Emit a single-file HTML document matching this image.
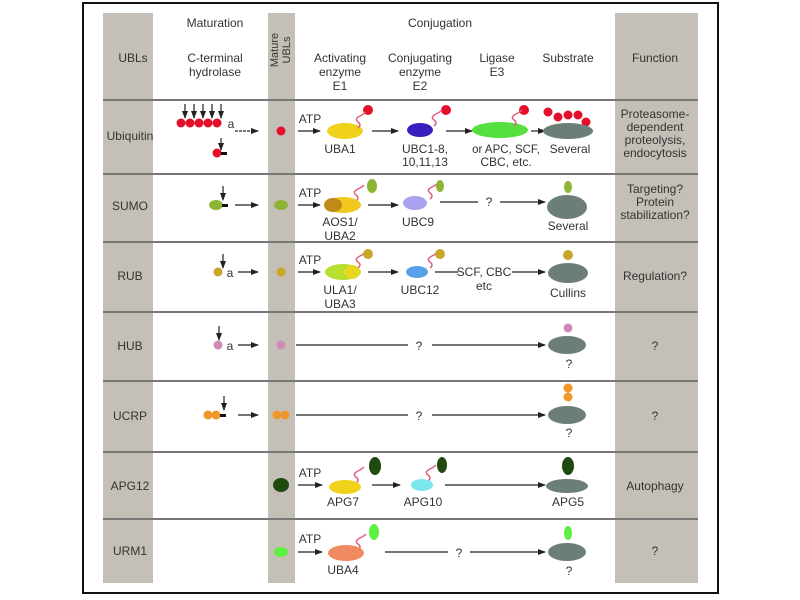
<!DOCTYPE html>
<html><head><meta charset="utf-8"><style>
html,body{margin:0;padding:0;background:#fff;}
svg{display:block;}
text{font-family:"Liberation Sans",sans-serif;font-size:12px;fill:#333;text-anchor:middle;}
</style></head><body>
<svg width="800" height="600" viewBox="0 0 800 600" xmlns="http://www.w3.org/2000/svg">
<defs>
<marker id="ah" markerWidth="8" markerHeight="6" refX="7" refY="3" orient="auto" markerUnits="userSpaceOnUse"><path d="M0,0 L8,3 L0,6z" fill="#222"/></marker>
</defs>
<rect x="83" y="3" width="635" height="590" fill="#fff" stroke="#111" stroke-width="2"/>
<rect x="103" y="13" width="50" height="570" fill="#c5c0b7"/>
<rect x="268" y="13" width="27" height="570" fill="#c5c0b7"/>
<rect x="615" y="13" width="83" height="570" fill="#c5c0b7"/>
<g stroke="#777" stroke-width="2">
<line x1="103" y1="100" x2="698" y2="100"/>
<line x1="103" y1="174" x2="698" y2="174"/>
<line x1="103" y1="242" x2="698" y2="242"/>
<line x1="103" y1="312" x2="698" y2="312"/>
<line x1="103" y1="381" x2="698" y2="381"/>
<line x1="103" y1="452" x2="698" y2="452"/>
<line x1="103" y1="519" x2="698" y2="519"/>
</g>
<text x="133" y="62">UBLs</text>
<text x="215" y="27">Maturation</text>
<text x="215" y="62">C-terminal</text><text x="215" y="76">hydrolase</text>
<text transform="translate(278,50) rotate(-90)" style="font-size:11px">Mature</text>
<text transform="translate(290,50) rotate(-90)" style="font-size:11px">UBLs</text>
<text x="440" y="27">Conjugation</text>
<text x="340" y="62">Activating</text><text x="340" y="76">enzyme</text><text x="340" y="90">E1</text>
<text x="420" y="62">Conjugating</text><text x="420" y="76">enzyme</text><text x="420" y="90">E2</text>
<text x="497" y="62">Ligase</text><text x="497" y="76">E3</text>
<text x="568" y="62">Substrate</text>
<text x="655" y="62">Function</text>
<text x="130" y="140">Ubiquitin</text>
<text x="130" y="210">SUMO</text>
<text x="130" y="280">RUB</text>
<text x="130" y="350">HUB</text>
<text x="130" y="420">UCRP</text>
<text x="130" y="490">APG12</text>
<text x="130" y="555">URM1</text>
<text x="655" y="118">Proteasome-</text><text x="655" y="131">dependent</text><text x="655" y="144">proteolysis,</text><text x="655" y="157">endocytosis</text>
<text x="655" y="193">Targeting?</text><text x="655" y="206">Protein</text><text x="655" y="219">stabilization?</text>
<text x="655" y="280">Regulation?</text>
<text x="655" y="350">?</text>
<text x="655" y="420">?</text>
<text x="655" y="490">Autophagy</text>
<text x="655" y="555">?</text>
<g stroke="#222" stroke-width="1.2" fill="none">
<line x1="235" y1="131" x2="258" y2="131" marker-end="url(#ah)" stroke-dasharray="3,1"/>
<line x1="235" y1="205" x2="258" y2="205" marker-end="url(#ah)"/>
<line x1="238" y1="272" x2="258" y2="272" marker-end="url(#ah)"/>
<line x1="238" y1="345" x2="258" y2="345" marker-end="url(#ah)"/>
<line x1="238" y1="415" x2="258" y2="415" marker-end="url(#ah)"/>
<line x1="185" y1="104" x2="185" y2="118" marker-end="url(#ah)"/>
<line x1="194" y1="104" x2="194" y2="118" marker-end="url(#ah)"/>
<line x1="203" y1="104" x2="203" y2="118" marker-end="url(#ah)"/>
<line x1="212" y1="104" x2="212" y2="118" marker-end="url(#ah)"/>
<line x1="221" y1="104" x2="221" y2="118" marker-end="url(#ah)"/>
<line x1="221" y1="138" x2="221" y2="150" marker-end="url(#ah)"/>
<line x1="223" y1="186" x2="223" y2="200" marker-end="url(#ah)"/>
<line x1="223" y1="254" x2="223" y2="268" marker-end="url(#ah)"/>
<line x1="219" y1="326" x2="219" y2="340" marker-end="url(#ah)"/>
<line x1="224" y1="396" x2="224" y2="410" marker-end="url(#ah)"/>
<line x1="298" y1="131" x2="320" y2="131" marker-end="url(#ah)"/>
<line x1="298" y1="205" x2="320" y2="205" marker-end="url(#ah)"/>
<line x1="298" y1="272" x2="320" y2="272" marker-end="url(#ah)"/>
<line x1="298" y1="485" x2="322" y2="485" marker-end="url(#ah)"/>
<line x1="298" y1="552" x2="322" y2="552" marker-end="url(#ah)"/>
<line x1="372" y1="131" x2="398" y2="131" marker-end="url(#ah)"/>
<line x1="368" y1="205" x2="398" y2="205" marker-end="url(#ah)"/>
<line x1="368" y1="272" x2="398" y2="272" marker-end="url(#ah)"/>
<line x1="372" y1="485" x2="400" y2="485" marker-end="url(#ah)"/>
<line x1="446" y1="131" x2="472" y2="131" marker-end="url(#ah)"/>
<line x1="531" y1="131" x2="545" y2="131" marker-end="url(#ah)"/>
<line x1="440" y1="202" x2="478" y2="202"/><line x1="500" y1="202" x2="545" y2="202" marker-end="url(#ah)"/>
<line x1="435" y1="272" x2="458" y2="272"/><line x1="512" y1="272" x2="545" y2="272" marker-end="url(#ah)"/>
<line x1="296" y1="345" x2="408" y2="345"/><line x1="432" y1="345" x2="545" y2="345" marker-end="url(#ah)"/>
<line x1="296" y1="415" x2="408" y2="415"/><line x1="432" y1="415" x2="545" y2="415" marker-end="url(#ah)"/>
<line x1="445" y1="485" x2="545" y2="485" marker-end="url(#ah)"/>
<line x1="385" y1="552" x2="448" y2="552"/><line x1="470" y1="552" x2="545" y2="552" marker-end="url(#ah)"/>
</g>
<g fill="#e4102a">
<circle cx="181" cy="123" r="4.5"/><circle cx="190" cy="123" r="4.5"/><circle cx="199" cy="123" r="4.5"/><circle cx="208" cy="123" r="4.5"/><circle cx="217" cy="123" r="4.5"/>
<circle cx="217" cy="153" r="4.5"/><circle cx="281" cy="131" r="4.5"/>
<circle cx="368" cy="110" r="5"/><circle cx="446" cy="110" r="5"/><circle cx="524" cy="110" r="5"/>
<circle cx="548" cy="112" r="4.5"/><circle cx="558" cy="117" r="4.5"/><circle cx="568" cy="115" r="4.5"/><circle cx="578" cy="115" r="4.5"/><circle cx="586" cy="122" r="4.5"/>
</g>
<rect x="221" y="152" width="6" height="3" fill="#111"/>
<text x="231" y="128">a</text>
<text x="310" y="123">ATP</text>
<ellipse cx="345" cy="131" rx="18" ry="8" fill="#f1d21a"/>
<text x="340" y="153">UBA1</text>
<ellipse cx="420" cy="130" rx="13" ry="7" fill="#3a1ec0"/>
<text x="425" y="153">UBC1-8,</text><text x="425" y="166">10,11,13</text>
<ellipse cx="500" cy="130" rx="28" ry="8" fill="#56e040"/>
<text x="506" y="153" style="font-size:11.5px">or APC, SCF,</text><text x="506" y="166">CBC, etc.</text>
<ellipse cx="568" cy="131" rx="25" ry="8" fill="#6c7f77"/>
<text x="570" y="153">Several</text>
<g stroke="#e06080" stroke-width="1.5" fill="none">
<path d="M358,128 q4,-3 0,-6 q-4,-3 2,-6 q4,-2 5,-4"/>
<path d="M434,126 q4,-3 0,-6 q-4,-3 2,-6 q4,-2 6,-4"/>
<path d="M514,126 q4,-3 0,-6 q-4,-3 2,-6 q4,-2 6,-4"/>
<path d="M356,201 q4,-3 0,-6 q-4,-3 2,-6 q4,-2 6,-4"/>
<path d="M430,199 q4,-3 0,-6 q-4,-3 2,-6 q4,-2 6,-4"/>
<path d="M358,268 q4,-3 0,-6 q-4,-3 2,-6 q4,-2 6,-4"/>
<path d="M430,268 q4,-3 0,-6 q-4,-3 2,-6 q4,-2 6,-4"/>
<path d="M356,483 q4,-3 0,-6 q-4,-3 2,-6 q4,-2 6,-4"/>
<path d="M428,481 q4,-3 0,-6 q-4,-3 2,-6 q4,-2 6,-4"/>
<path d="M358,550 q4,-3 0,-6 q-4,-3 2,-6 q4,-2 6,-4"/>
</g>
<ellipse cx="216" cy="205" rx="7" ry="5" fill="#8db434"/><rect x="222" y="204" width="6" height="3" fill="#111"/>
<ellipse cx="281" cy="205" rx="7" ry="5" fill="#8db434"/>
<text x="310" y="197">ATP</text>
<ellipse cx="343" cy="205" rx="18" ry="8" fill="#f0c820"/><ellipse cx="333" cy="205" rx="9" ry="7" fill="#c08a18"/>
<ellipse cx="372" cy="186" rx="5" ry="7" fill="#8db434"/>
<text x="340" y="226">AOS1/</text><text x="340" y="240">UBA2</text>
<ellipse cx="415" cy="203" rx="12" ry="7" fill="#a9a0f0"/>
<ellipse cx="440" cy="186" rx="4" ry="6" fill="#8db434"/>
<text x="418" y="226">UBC9</text>
<text x="489" y="206">?</text>
<ellipse cx="567" cy="207" rx="20" ry="12" fill="#6c7f77"/>
<ellipse cx="568" cy="187" rx="4" ry="6" fill="#8db434"/>
<text x="568" y="230">Several</text>
<circle cx="218" cy="272" r="4.5" fill="#c9a62a"/><text x="230" y="277">a</text>
<circle cx="281" cy="272" r="4.5" fill="#c9a62a"/>
<text x="310" y="264">ATP</text>
<ellipse cx="343" cy="272" rx="18" ry="8" fill="#b6e030"/><ellipse cx="352" cy="272" rx="8" ry="7" fill="#e8d820"/>
<circle cx="368" cy="254" r="5" fill="#c9a62a"/>
<text x="340" y="294">ULA1/</text><text x="340" y="308">UBA3</text>
<ellipse cx="417" cy="272" rx="11" ry="6" fill="#5aa0e8"/>
<circle cx="440" cy="254" r="5" fill="#c9a62a"/>
<text x="420" y="294">UBC12</text>
<text x="484" y="276">SCF, CBC</text><text x="484" y="290">etc</text>
<ellipse cx="568" cy="273" rx="20" ry="10" fill="#6c7f77"/>
<circle cx="568" cy="255" r="5" fill="#c9a62a"/>
<text x="568" y="297">Cullins</text>
<circle cx="218" cy="345" r="4.5" fill="#d08ab8"/><text x="230" y="350">a</text>
<circle cx="281" cy="345" r="4.5" fill="#d08ab8"/>
<text x="419" y="350">?</text>
<ellipse cx="567" cy="345" rx="19" ry="9" fill="#6c7f77"/>
<circle cx="568" cy="328" r="4.5" fill="#d08ab8"/>
<text x="569" y="368">?</text>
<circle cx="208" cy="415" r="4.5" fill="#f0962a"/><circle cx="216" cy="415" r="4.5" fill="#f0962a"/><rect x="220" y="414" width="6" height="3" fill="#111"/>
<circle cx="277" cy="415" r="4.5" fill="#f0962a"/><circle cx="285" cy="415" r="4.5" fill="#f0962a"/>
<text x="419" y="420">?</text>
<ellipse cx="567" cy="415" rx="19" ry="9" fill="#6c7f77"/>
<circle cx="568" cy="397" r="4.5" fill="#f0962a"/><circle cx="568" cy="388" r="4.5" fill="#f0962a"/>
<text x="569" y="437">?</text>
<ellipse cx="281" cy="485" rx="8" ry="7" fill="#1f4a10"/>
<text x="310" y="477">ATP</text>
<ellipse cx="345" cy="487" rx="16" ry="7" fill="#f1d21a"/>
<ellipse cx="375" cy="466" rx="6" ry="9" fill="#1f4a10"/>
<text x="343" y="506">APG7</text>
<ellipse cx="422" cy="485" rx="11" ry="6" fill="#7ce6f0"/>
<ellipse cx="442" cy="465" rx="5" ry="8" fill="#1f4a10"/>
<text x="423" y="506">APG10</text>
<ellipse cx="567" cy="486" rx="21" ry="7" fill="#6c7f77"/>
<ellipse cx="568" cy="466" rx="6" ry="9" fill="#1f4a10"/>
<text x="568" y="506">APG5</text>
<ellipse cx="281" cy="552" rx="7" ry="5" fill="#5ef040"/>
<text x="310" y="543">ATP</text>
<ellipse cx="346" cy="553" rx="18" ry="8" fill="#f08a60"/>
<ellipse cx="374" cy="532" rx="5" ry="8" fill="#5ef040"/>
<text x="343" y="574">UBA4</text>
<text x="459" y="557">?</text>
<ellipse cx="567" cy="552" rx="19" ry="9" fill="#6c7f77"/>
<ellipse cx="568" cy="533" rx="4" ry="7" fill="#5ef040"/>
<text x="569" y="575">?</text>
</svg>
</body></html>
